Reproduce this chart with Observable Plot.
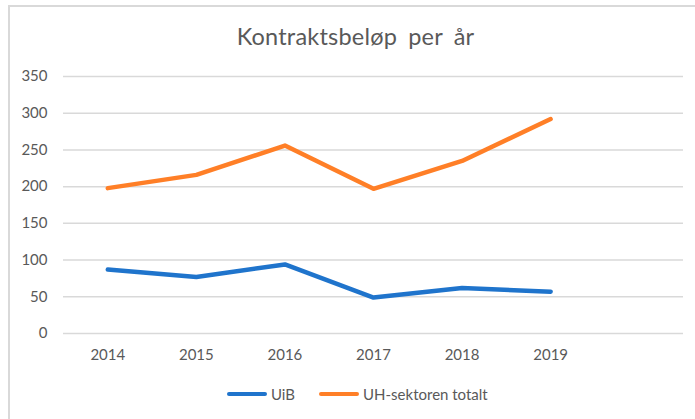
<!DOCTYPE html>
<html><head><meta charset="utf-8">
<script src="https://cdn.jsdelivr.net/npm/d3@7"></script>
<script src="https://cdn.jsdelivr.net/npm/@observablehq/plot@0.6"></script>
<style>
body{margin:0;background:#fff;}
#wrap{position:relative;width:695px;height:419px;overflow:hidden;font-family:Lato,"Open Sans",sans-serif;background:#fff;}
#frame{position:absolute;left:8px;top:5px;right:-10px;bottom:-10px;border-top:2px solid #d9d9d9;border-left:2px solid #d9d9d9;}
#title{position:absolute;top:22px;left:0;width:711px;text-align:center;font-size:23.5px;color:#595959;line-height:28px;word-spacing:5px;letter-spacing:0.2px;}
#chart{position:absolute;top:60px;left:0;}
#legend{position:absolute;top:384px;left:227px;display:flex;align-items:center;font-size:15px;color:#595959;line-height:20px;}
.sw{display:inline-block;width:40px;height:4px;border-radius:2px;margin-right:4px;}
.item{display:flex;align-items:center;margin-right:24px;}
</style></head>
<body>
<div id="wrap">
  <div id="frame"></div>
  <div id="title">Kontraktsbeløp per år</div>
  <div id="chart"></div>
  <div id="legend"></div>
</div>
<script>
const years = [2014, 2015, 2016, 2017, 2018, 2019];
const uib = [87, 77, 94, 49, 62, 57];
const uhTotal = [198, 216, 256, 197, 235, 292];
const seriesNames = ["UiB", "UH-sektoren totalt"];
const seriesColors = ["#1f74cc", "#ff7f27"];
const yTicks = [0, 50, 100, 150, 200, 250, 300, 350];

const rows = [];
years.forEach((y, i) => {
  rows.push({year: y, value: uib[i], series: seriesNames[0]});
  rows.push({year: y, value: uhTotal[i], series: seriesNames[1]});
});

const plot = Plot.plot({
  width: 695,
  height: 308,
  marginTop: 16,
  marginBottom: 35,
  marginLeft: 63,
  marginRight: 12,
  style: {fontFamily: "Lato, 'Open Sans', sans-serif", fontSize: "15px", color: "#595959", background: "transparent"},
  x: {domain: [2013.5, 2020.5], ticks: years, tickFormat: d => String(d), tickSize: 0, tickPadding: 16, label: null},
  y: {domain: [0, 350], ticks: yTicks, tickSize: 0, tickPadding: 16, label: null},
  color: {domain: seriesNames, range: seriesColors},
  marks: [
    Plot.gridY(yTicks, {stroke: "#d9d9d9", strokeOpacity: 1, strokeWidth: 1.5}),
    Plot.line(rows, {x: "year", y: "value", z: "series", stroke: "series", strokeWidth: 4.5, strokeLinecap: "round", strokeLinejoin: "round"})
  ]
});
document.getElementById("chart").appendChild(plot);

const legend = document.getElementById("legend");
seriesNames.forEach((name, i) => {
  const item = document.createElement("div");
  item.className = "item";
  const sw = document.createElement("span");
  sw.className = "sw";
  sw.style.background = seriesColors[i];
  const t = document.createElement("span");
  t.textContent = name;
  item.appendChild(sw);
  item.appendChild(t);
  legend.appendChild(item);
});
</script>
</body></html>
